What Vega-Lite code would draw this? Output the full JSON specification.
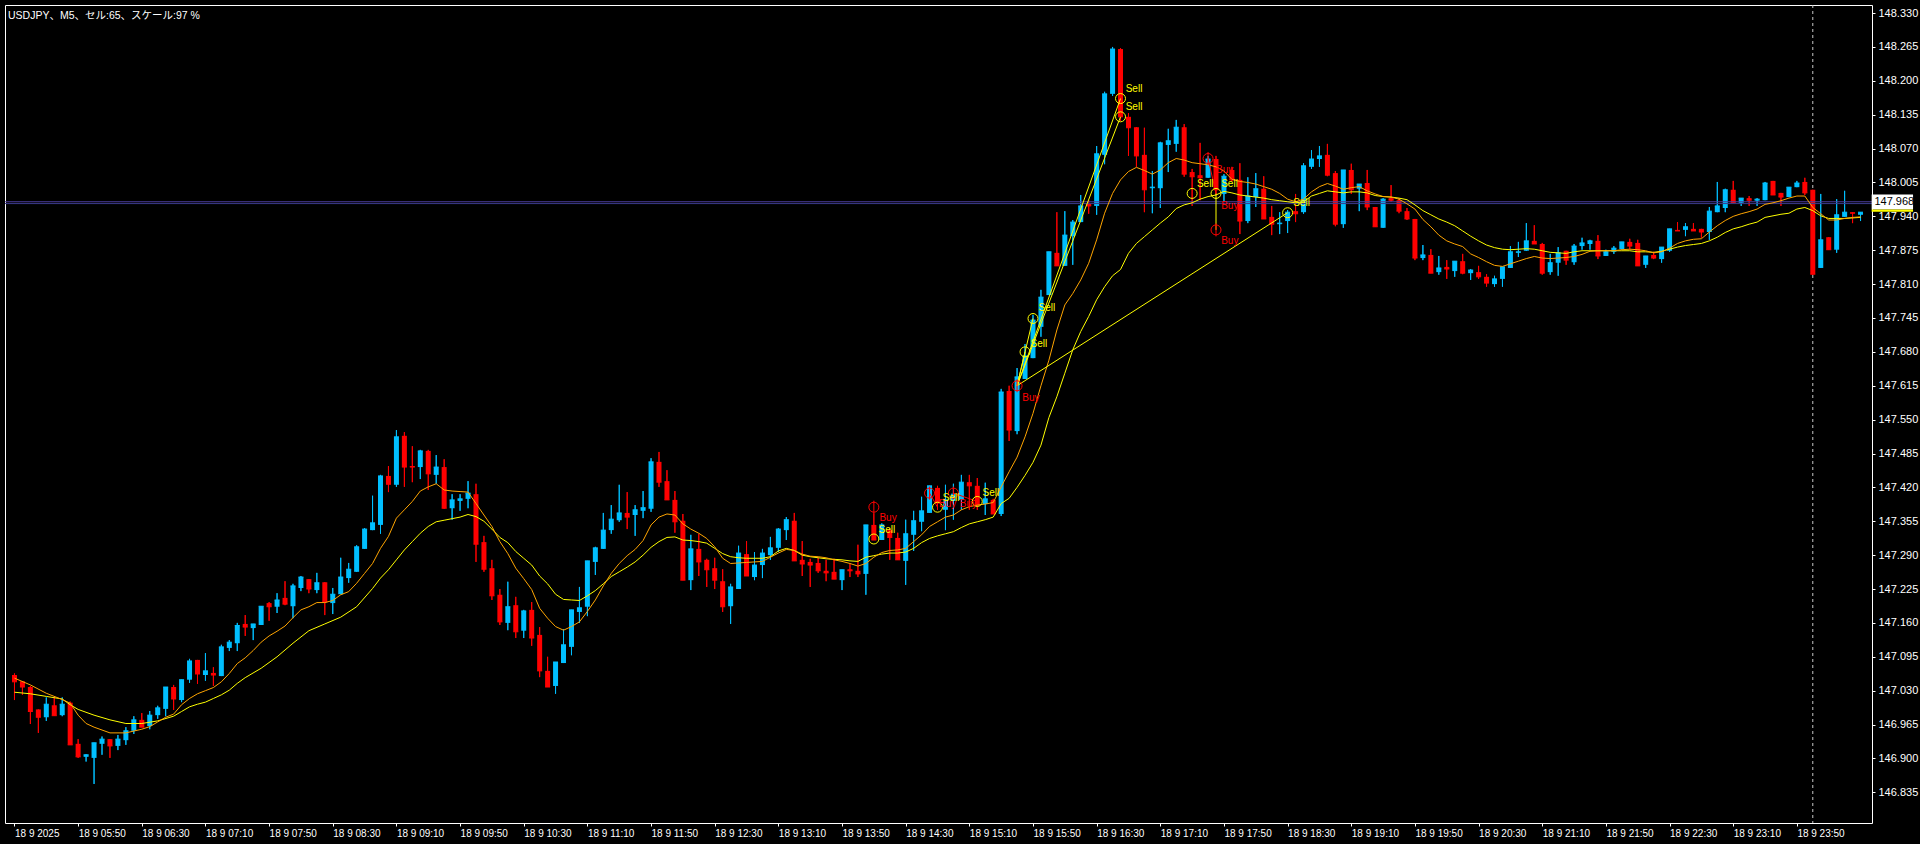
{
"$schema":"https://vega.github.io/schema/vega-lite/v6.json",
"width":1867,"height":818,"autosize":{"type":"none"},
"padding":{"left":5,"top":5,"right":48,"bottom":21},
"background":"#000000",
"title":{"text":"USDJPY、M5、セル:65、スケール:97 %","anchor":"start","frame":"group","offset":-17,"dx":3,"fontSize":10.5,"fontWeight":"normal","color":"#FFFFFF","font":"Liberation Sans, Noto Sans CJK JP"},
"config":{"view":{"stroke":"#FFFFFF","strokeWidth":1,"fill":"#000000"},
"axis":{"labelOverlap":false,"labelBound":false,"labelFlush":false,"grid":false,"domain":false},
"axisY":{"labelOverlap":false,"labelColor":"#FFFFFF","labelFont":"Liberation Sans","labelFontSize":11,"labelPadding":3,"tickColor":"#FFFFFF","tickSize":3,"tickCount":40}},
"datasets":{
"k":[
{"i":0,"o":147.060,"h":147.063,"l":147.012,"c":147.047},
{"i":1,"o":147.048,"h":147.048,"l":147.022,"c":147.037},
{"i":2,"o":147.037,"h":147.039,"l":146.966,"c":146.990},
{"i":3,"o":146.994,"h":146.994,"l":146.949,"c":146.979},
{"i":4,"o":146.979,"h":147.017,"l":146.972,"c":147.004},
{"i":5,"o":147.002,"h":147.017,"l":146.982,"c":146.982},
{"i":6,"o":146.983,"h":147.017,"l":146.981,"c":147.004},
{"i":7,"o":147.007,"h":147.009,"l":146.926,"c":146.926},
{"i":8,"o":146.928,"h":146.937,"l":146.901,"c":146.903},
{"i":9,"o":146.903,"h":146.908,"l":146.894,"c":146.907},
{"i":10,"o":146.901,"h":146.930,"l":146.851,"c":146.930},
{"i":11,"o":146.928,"h":146.942,"l":146.907,"c":146.937},
{"i":12,"o":146.937,"h":146.937,"l":146.901,"c":146.924},
{"i":13,"o":146.924,"h":146.945,"l":146.916,"c":146.937},
{"i":14,"o":146.935,"h":146.960,"l":146.926,"c":146.953},
{"i":15,"o":146.953,"h":146.981,"l":146.947,"c":146.974},
{"i":16,"o":146.974,"h":146.987,"l":146.960,"c":146.960},
{"i":17,"o":146.962,"h":146.991,"l":146.956,"c":146.983},
{"i":18,"o":146.983,"h":147.001,"l":146.976,"c":146.997},
{"i":19,"o":146.995,"h":147.037,"l":146.981,"c":147.037},
{"i":20,"o":147.037,"h":147.041,"l":146.993,"c":147.014},
{"i":21,"o":147.012,"h":147.051,"l":147.008,"c":147.051},
{"i":22,"o":147.051,"h":147.091,"l":147.045,"c":147.087},
{"i":23,"o":147.089,"h":147.089,"l":147.043,"c":147.062},
{"i":24,"o":147.060,"h":147.102,"l":147.049,"c":147.068},
{"i":25,"o":147.064,"h":147.075,"l":147.039,"c":147.060},
{"i":26,"o":147.058,"h":147.118,"l":147.058,"c":147.114},
{"i":27,"o":147.112,"h":147.127,"l":147.106,"c":147.123},
{"i":28,"o":147.121,"h":147.160,"l":147.106,"c":147.155},
{"i":29,"o":147.158,"h":147.175,"l":147.135,"c":147.152},
{"i":30,"o":147.150,"h":147.158,"l":147.127,"c":147.158},
{"i":31,"o":147.156,"h":147.192,"l":147.156,"c":147.192},
{"i":32,"o":147.198,"h":147.200,"l":147.164,"c":147.191},
{"i":33,"o":147.191,"h":147.217,"l":147.179,"c":147.204},
{"i":34,"o":147.208,"h":147.240,"l":147.194,"c":147.196},
{"i":35,"o":147.192,"h":147.235,"l":147.169,"c":147.231},
{"i":36,"o":147.227,"h":147.250,"l":147.221,"c":147.248},
{"i":37,"o":147.244,"h":147.244,"l":147.217,"c":147.225},
{"i":38,"o":147.223,"h":147.256,"l":147.217,"c":147.237},
{"i":39,"o":147.238,"h":147.238,"l":147.175,"c":147.200},
{"i":40,"o":147.198,"h":147.227,"l":147.177,"c":147.215},
{"i":41,"o":147.215,"h":147.285,"l":147.215,"c":147.248},
{"i":42,"o":147.246,"h":147.275,"l":147.237,"c":147.263},
{"i":43,"o":147.258,"h":147.309,"l":147.258,"c":147.306},
{"i":44,"o":147.302,"h":147.342,"l":147.302,"c":147.340},
{"i":45,"o":147.338,"h":147.404,"l":147.338,"c":147.352},
{"i":46,"o":147.348,"h":147.444,"l":147.331,"c":147.442},
{"i":47,"o":147.442,"h":147.461,"l":147.411,"c":147.426},
{"i":48,"o":147.425,"h":147.530,"l":147.421,"c":147.517},
{"i":49,"o":147.519,"h":147.526,"l":147.421,"c":147.459},
{"i":50,"o":147.461,"h":147.499,"l":147.430,"c":147.459},
{"i":51,"o":147.459,"h":147.492,"l":147.436,"c":147.490},
{"i":52,"o":147.490,"h":147.492,"l":147.415,"c":147.446},
{"i":53,"o":147.444,"h":147.482,"l":147.427,"c":147.459},
{"i":54,"o":147.459,"h":147.474,"l":147.379,"c":147.380},
{"i":55,"o":147.380,"h":147.407,"l":147.358,"c":147.396},
{"i":56,"o":147.394,"h":147.407,"l":147.375,"c":147.398},
{"i":57,"o":147.398,"h":147.432,"l":147.380,"c":147.409},
{"i":58,"o":147.407,"h":147.427,"l":147.277,"c":147.311},
{"i":59,"o":147.315,"h":147.327,"l":147.258,"c":147.263},
{"i":60,"o":147.265,"h":147.281,"l":147.204,"c":147.212},
{"i":61,"o":147.214,"h":147.225,"l":147.156,"c":147.162},
{"i":62,"o":147.160,"h":147.239,"l":147.146,"c":147.191},
{"i":63,"o":147.194,"h":147.210,"l":147.131,"c":147.143},
{"i":64,"o":147.145,"h":147.185,"l":147.131,"c":147.183},
{"i":65,"o":147.185,"h":147.200,"l":147.116,"c":147.131},
{"i":66,"o":147.137,"h":147.152,"l":147.056,"c":147.068},
{"i":67,"o":147.068,"h":147.095,"l":147.037,"c":147.037},
{"i":68,"o":147.039,"h":147.085,"l":147.024,"c":147.085},
{"i":69,"o":147.083,"h":147.148,"l":147.083,"c":147.118},
{"i":70,"o":147.114,"h":147.185,"l":147.098,"c":147.185},
{"i":71,"o":147.181,"h":147.229,"l":147.160,"c":147.189},
{"i":72,"o":147.191,"h":147.279,"l":147.173,"c":147.279},
{"i":73,"o":147.277,"h":147.306,"l":147.252,"c":147.304},
{"i":74,"o":147.302,"h":147.371,"l":147.302,"c":147.338},
{"i":75,"o":147.338,"h":147.386,"l":147.331,"c":147.359},
{"i":76,"o":147.357,"h":147.425,"l":147.354,"c":147.371},
{"i":77,"o":147.371,"h":147.411,"l":147.340,"c":147.363},
{"i":78,"o":147.367,"h":147.386,"l":147.327,"c":147.377},
{"i":79,"o":147.375,"h":147.413,"l":147.361,"c":147.381},
{"i":80,"o":147.379,"h":147.476,"l":147.373,"c":147.469},
{"i":81,"o":147.469,"h":147.488,"l":147.421,"c":147.430},
{"i":82,"o":147.432,"h":147.453,"l":147.396,"c":147.396},
{"i":83,"o":147.396,"h":147.413,"l":147.333,"c":147.354},
{"i":84,"o":147.356,"h":147.369,"l":147.242,"c":147.242},
{"i":85,"o":147.242,"h":147.329,"l":147.223,"c":147.302},
{"i":86,"o":147.302,"h":147.331,"l":147.250,"c":147.277},
{"i":87,"o":147.281,"h":147.283,"l":147.229,"c":147.262},
{"i":88,"o":147.265,"h":147.285,"l":147.225,"c":147.242},
{"i":89,"o":147.240,"h":147.263,"l":147.181,"c":147.191},
{"i":90,"o":147.192,"h":147.235,"l":147.158,"c":147.229},
{"i":91,"o":147.225,"h":147.308,"l":147.225,"c":147.294},
{"i":92,"o":147.292,"h":147.317,"l":147.250,"c":147.250},
{"i":93,"o":147.248,"h":147.296,"l":147.242,"c":147.271},
{"i":94,"o":147.271,"h":147.302,"l":147.246,"c":147.294},
{"i":95,"o":147.290,"h":147.325,"l":147.281,"c":147.304},
{"i":96,"o":147.304,"h":147.342,"l":147.296,"c":147.340},
{"i":97,"o":147.338,"h":147.363,"l":147.319,"c":147.358},
{"i":98,"o":147.356,"h":147.371,"l":147.279,"c":147.279},
{"i":99,"o":147.281,"h":147.317,"l":147.250,"c":147.273},
{"i":100,"o":147.277,"h":147.283,"l":147.229,"c":147.271},
{"i":101,"o":147.275,"h":147.285,"l":147.256,"c":147.260},
{"i":102,"o":147.260,"h":147.281,"l":147.240,"c":147.256},
{"i":103,"o":147.258,"h":147.283,"l":147.244,"c":147.244},
{"i":104,"o":147.242,"h":147.262,"l":147.223,"c":147.262},
{"i":105,"o":147.263,"h":147.273,"l":147.248,"c":147.260},
{"i":106,"o":147.260,"h":147.310,"l":147.248,"c":147.254},
{"i":107,"o":147.254,"h":147.348,"l":147.214,"c":147.348},
{"i":108,"o":147.348,"h":147.370,"l":147.319,"c":147.319},
{"i":109,"o":147.319,"h":147.351,"l":147.319,"c":147.348},
{"i":110,"o":147.338,"h":147.342,"l":147.281,"c":147.324},
{"i":111,"o":147.323,"h":147.333,"l":147.281,"c":147.281},
{"i":112,"o":147.279,"h":147.358,"l":147.233,"c":147.331},
{"i":113,"o":147.329,"h":147.375,"l":147.298,"c":147.356},
{"i":114,"o":147.354,"h":147.402,"l":147.336,"c":147.375},
{"i":115,"o":147.371,"h":147.423,"l":147.371,"c":147.423},
{"i":116,"o":147.419,"h":147.423,"l":147.377,"c":147.390},
{"i":117,"o":147.377,"h":147.425,"l":147.338,"c":147.396},
{"i":118,"o":147.394,"h":147.427,"l":147.358,"c":147.407},
{"i":119,"o":147.396,"h":147.444,"l":147.377,"c":147.430},
{"i":120,"o":147.430,"h":147.444,"l":147.377,"c":147.423},
{"i":121,"o":147.423,"h":147.438,"l":147.377,"c":147.386},
{"i":122,"o":147.388,"h":147.429,"l":147.367,"c":147.398},
{"i":123,"o":147.396,"h":147.398,"l":147.369,"c":147.369},
{"i":124,"o":147.369,"h":147.609,"l":147.365,"c":147.603},
{"i":125,"o":147.605,"h":147.615,"l":147.509,"c":147.530},
{"i":126,"o":147.528,"h":147.649,"l":147.522,"c":147.632},
{"i":127,"o":147.628,"h":147.695,"l":147.628,"c":147.672},
{"i":128,"o":147.668,"h":147.751,"l":147.668,"c":147.741},
{"i":129,"o":147.728,"h":147.799,"l":147.709,"c":147.785},
{"i":130,"o":147.789,"h":147.872,"l":147.789,"c":147.872},
{"i":131,"o":147.870,"h":147.948,"l":147.845,"c":147.845},
{"i":132,"o":147.845,"h":147.950,"l":147.845,"c":147.904},
{"i":133,"o":147.902,"h":147.933,"l":147.847,"c":147.929},
{"i":134,"o":147.929,"h":147.981,"l":147.929,"c":147.960},
{"i":135,"o":147.964,"h":147.971,"l":147.945,"c":147.960},
{"i":136,"o":147.960,"h":148.075,"l":147.943,"c":148.060},
{"i":137,"o":148.058,"h":148.179,"l":148.040,"c":148.175},
{"i":138,"o":148.175,"h":148.265,"l":148.171,"c":148.261},
{"i":139,"o":148.261,"h":148.263,"l":148.123,"c":148.131},
{"i":140,"o":148.131,"h":148.138,"l":148.056,"c":148.110},
{"i":141,"o":148.111,"h":148.111,"l":148.035,"c":148.056},
{"i":142,"o":148.058,"h":148.110,"l":147.948,"c":147.991},
{"i":143,"o":147.994,"h":148.027,"l":147.946,"c":147.996},
{"i":144,"o":147.994,"h":148.083,"l":147.956,"c":148.081},
{"i":145,"o":148.077,"h":148.108,"l":148.025,"c":148.085},
{"i":146,"o":148.079,"h":148.125,"l":148.064,"c":148.111},
{"i":147,"o":148.111,"h":148.117,"l":148.016,"c":148.021},
{"i":148,"o":148.025,"h":148.031,"l":147.960,"c":148.016},
{"i":149,"o":148.019,"h":148.081,"l":147.971,"c":148.014},
{"i":150,"o":148.014,"h":148.056,"l":148.014,"c":148.050},
{"i":151,"o":148.050,"h":148.056,"l":147.981,"c":147.991},
{"i":152,"o":147.983,"h":148.021,"l":147.968,"c":148.017},
{"i":153,"o":148.029,"h":148.035,"l":148.007,"c":148.010},
{"i":154,"o":148.010,"h":148.042,"l":147.906,"c":147.931},
{"i":155,"o":147.931,"h":148.015,"l":147.927,"c":147.979},
{"i":156,"o":147.977,"h":148.023,"l":147.958,"c":147.993},
{"i":157,"o":147.993,"h":148.017,"l":147.935,"c":147.935},
{"i":158,"o":147.939,"h":147.960,"l":147.904,"c":147.925},
{"i":159,"o":147.925,"h":147.948,"l":147.906,"c":147.927},
{"i":160,"o":147.931,"h":147.952,"l":147.908,"c":147.948},
{"i":161,"o":147.950,"h":147.983,"l":147.929,"c":147.945},
{"i":162,"o":147.948,"h":148.042,"l":147.945,"c":148.037},
{"i":163,"o":148.035,"h":148.067,"l":148.031,"c":148.050},
{"i":164,"o":148.050,"h":148.075,"l":148.035,"c":148.056},
{"i":165,"o":148.058,"h":148.079,"l":148.017,"c":148.019},
{"i":166,"o":148.023,"h":148.027,"l":147.921,"c":147.925},
{"i":167,"o":147.925,"h":148.029,"l":147.918,"c":148.029},
{"i":168,"o":148.029,"h":148.041,"l":147.983,"c":147.991},
{"i":169,"o":147.993,"h":148.002,"l":147.950,"c":148.002},
{"i":170,"o":148.004,"h":148.029,"l":147.952,"c":147.958},
{"i":171,"o":147.958,"h":147.958,"l":147.920,"c":147.920},
{"i":172,"o":147.918,"h":147.975,"l":147.918,"c":147.973},
{"i":173,"o":147.975,"h":148.000,"l":147.968,"c":147.971},
{"i":174,"o":147.971,"h":147.975,"l":147.946,"c":147.950},
{"i":175,"o":147.950,"h":147.956,"l":147.933,"c":147.935},
{"i":176,"o":147.935,"h":147.935,"l":147.856,"c":147.860},
{"i":177,"o":147.860,"h":147.885,"l":147.856,"c":147.866},
{"i":178,"o":147.866,"h":147.877,"l":147.831,"c":147.831},
{"i":179,"o":147.833,"h":147.864,"l":147.828,"c":147.841},
{"i":180,"o":147.843,"h":147.856,"l":147.820,"c":147.839},
{"i":181,"o":147.835,"h":147.854,"l":147.824,"c":147.854},
{"i":182,"o":147.854,"h":147.868,"l":147.829,"c":147.831},
{"i":183,"o":147.831,"h":147.839,"l":147.818,"c":147.837},
{"i":184,"o":147.833,"h":147.845,"l":147.820,"c":147.824},
{"i":185,"o":147.824,"h":147.829,"l":147.805,"c":147.812},
{"i":186,"o":147.810,"h":147.826,"l":147.805,"c":147.820},
{"i":187,"o":147.820,"h":147.843,"l":147.805,"c":147.843},
{"i":188,"o":147.841,"h":147.883,"l":147.841,"c":147.872},
{"i":189,"o":147.870,"h":147.891,"l":147.862,"c":147.872},
{"i":190,"o":147.874,"h":147.927,"l":147.874,"c":147.893},
{"i":191,"o":147.893,"h":147.923,"l":147.887,"c":147.887},
{"i":192,"o":147.887,"h":147.889,"l":147.828,"c":147.831},
{"i":193,"o":147.833,"h":147.868,"l":147.828,"c":147.851},
{"i":194,"o":147.851,"h":147.881,"l":147.826,"c":147.870},
{"i":195,"o":147.874,"h":147.874,"l":147.847,"c":147.856},
{"i":196,"o":147.852,"h":147.887,"l":147.847,"c":147.883},
{"i":197,"o":147.883,"h":147.899,"l":147.876,"c":147.889},
{"i":198,"o":147.887,"h":147.895,"l":147.876,"c":147.893},
{"i":199,"o":147.893,"h":147.904,"l":147.858,"c":147.864},
{"i":200,"o":147.864,"h":147.876,"l":147.864,"c":147.872},
{"i":201,"o":147.872,"h":147.883,"l":147.868,"c":147.879},
{"i":202,"o":147.877,"h":147.891,"l":147.876,"c":147.891},
{"i":203,"o":147.891,"h":147.897,"l":147.876,"c":147.883},
{"i":204,"o":147.889,"h":147.895,"l":147.845,"c":147.845},
{"i":205,"o":147.847,"h":147.864,"l":147.841,"c":147.864},
{"i":206,"o":147.866,"h":147.872,"l":147.858,"c":147.860},
{"i":207,"o":147.858,"h":147.881,"l":147.851,"c":147.881},
{"i":208,"o":147.874,"h":147.916,"l":147.872,"c":147.916},
{"i":209,"o":147.914,"h":147.929,"l":147.912,"c":147.912},
{"i":210,"o":147.914,"h":147.927,"l":147.902,"c":147.920},
{"i":211,"o":147.916,"h":147.927,"l":147.912,"c":147.912},
{"i":212,"o":147.916,"h":147.916,"l":147.899,"c":147.910},
{"i":213,"o":147.910,"h":147.958,"l":147.895,"c":147.950},
{"i":214,"o":147.948,"h":148.006,"l":147.948,"c":147.960},
{"i":215,"o":147.956,"h":147.993,"l":147.948,"c":147.991},
{"i":216,"o":147.991,"h":148.008,"l":147.966,"c":147.966},
{"i":217,"o":147.966,"h":147.975,"l":147.960,"c":147.975},
{"i":218,"o":147.975,"h":147.979,"l":147.960,"c":147.971},
{"i":219,"o":147.970,"h":147.975,"l":147.960,"c":147.973},
{"i":220,"o":147.971,"h":148.006,"l":147.971,"c":148.004},
{"i":221,"o":148.008,"h":148.008,"l":147.981,"c":147.981},
{"i":222,"o":147.985,"h":147.985,"l":147.960,"c":147.977},
{"i":223,"o":147.977,"h":147.996,"l":147.977,"c":147.996},
{"i":224,"o":147.996,"h":148.008,"l":147.996,"c":148.004},
{"i":225,"o":148.006,"h":148.014,"l":147.981,"c":147.985},
{"i":226,"o":147.991,"h":147.991,"l":147.828,"c":147.829},
{"i":227,"o":147.841,"h":147.983,"l":147.841,"c":147.895},
{"i":228,"o":147.900,"h":147.900,"l":147.876,"c":147.876},
{"i":229,"o":147.876,"h":147.973,"l":147.870,"c":147.943},
{"i":230,"o":147.939,"h":147.989,"l":147.939,"c":147.948},
{"i":231,"o":147.948,"h":147.948,"l":147.927,"c":147.946},
{"i":232,"o":147.943,"h":147.948,"l":147.931,"c":147.948}
],
"fast":[
{"i":0,"v":147.054},{"i":2,"v":147.041},{"i":4,"v":147.025},{"i":6,"v":147.013},{"i":7,"v":147.006},{"i":8,"v":146.983},{"i":9,"v":146.967},{"i":10,"v":146.960},{"i":12,"v":146.949},{"i":14,"v":146.949},{"i":16,"v":146.956},{"i":17,"v":146.961},{"i":18,"v":146.970},{"i":19,"v":146.979},{"i":20,"v":146.985},{"i":21,"v":147.003},{"i":22,"v":147.015},{"i":23,"v":147.024},{"i":24,"v":147.030},{"i":25,"v":147.036},{"i":26,"v":147.047},{"i":27,"v":147.063},{"i":28,"v":147.082},{"i":29,"v":147.093},{"i":30,"v":147.107},{"i":31,"v":147.123},{"i":32,"v":147.135},{"i":33,"v":147.144},{"i":34,"v":147.154},{"i":35,"v":147.170},{"i":36,"v":147.185},{"i":37,"v":147.191},{"i":38,"v":147.199},{"i":39,"v":147.199},{"i":40,"v":147.203},{"i":41,"v":147.214},{"i":42,"v":147.220},{"i":43,"v":147.236},{"i":44,"v":147.255},{"i":45,"v":147.274},{"i":46,"v":147.303},{"i":47,"v":147.326},{"i":48,"v":147.361},{"i":49,"v":147.377},{"i":50,"v":147.393},{"i":51,"v":147.413},{"i":52,"v":147.421},{"i":53,"v":147.427},{"i":54,"v":147.415},{"i":55,"v":147.413},{"i":56,"v":147.412},{"i":57,"v":147.411},{"i":58,"v":147.389},{"i":59,"v":147.367},{"i":60,"v":147.345},{"i":61,"v":147.316},{"i":62,"v":147.293},{"i":63,"v":147.265},{"i":64,"v":147.245},{"i":65,"v":147.224},{"i":66,"v":147.188},{"i":67,"v":147.169},{"i":68,"v":147.153},{"i":69,"v":147.146},{"i":70,"v":147.153},{"i":71,"v":147.162},{"i":72,"v":147.182},{"i":73,"v":147.204},{"i":74,"v":147.231},{"i":75,"v":147.255},{"i":76,"v":147.274},{"i":77,"v":147.289},{"i":78,"v":147.301},{"i":79,"v":147.318},{"i":80,"v":147.348},{"i":81,"v":147.363},{"i":82,"v":147.369},{"i":83,"v":147.367},{"i":84,"v":147.350},{"i":85,"v":147.340},{"i":86,"v":147.332},{"i":87,"v":147.322},{"i":88,"v":147.306},{"i":89,"v":147.284},{"i":90,"v":147.274},{"i":91,"v":147.275},{"i":92,"v":147.276},{"i":93,"v":147.277},{"i":94,"v":147.278},{"i":95,"v":147.286},{"i":96,"v":147.294},{"i":97,"v":147.301},{"i":98,"v":147.299},{"i":99,"v":147.292},{"i":100,"v":147.288},{"i":101,"v":147.287},{"i":102,"v":147.285},{"i":103,"v":147.281},{"i":104,"v":147.278},{"i":105,"v":147.274},{"i":106,"v":147.269},{"i":107,"v":147.274},{"i":108,"v":147.286},{"i":109,"v":147.295},{"i":110,"v":147.299},{"i":111,"v":147.300},{"i":112,"v":147.303},{"i":113,"v":147.316},{"i":114,"v":147.329},{"i":115,"v":147.345},{"i":116,"v":147.354},{"i":117,"v":147.363},{"i":118,"v":147.367},{"i":119,"v":147.377},{"i":120,"v":147.383},{"i":121,"v":147.386},{"i":122,"v":147.388},{"i":123,"v":147.391},{"i":124,"v":147.421},{"i":125,"v":147.450},{"i":126,"v":147.478},{"i":127,"v":147.517},{"i":128,"v":147.562},{"i":129,"v":147.615},{"i":130,"v":147.664},{"i":131,"v":147.722},{"i":132,"v":147.770},{"i":133,"v":147.792},{"i":134,"v":147.818},{"i":135,"v":147.850},{"i":136,"v":147.895},{"i":137,"v":147.946},{"i":138,"v":147.984},{"i":139,"v":148.010},{"i":140,"v":148.026},{"i":141,"v":148.034},{"i":142,"v":148.028},{"i":143,"v":148.021},{"i":144,"v":148.029},{"i":145,"v":148.043},{"i":146,"v":148.051},{"i":147,"v":148.048},{"i":148,"v":148.043},{"i":149,"v":148.041},{"i":150,"v":148.039},{"i":151,"v":148.035},{"i":152,"v":148.027},{"i":153,"v":148.011},{"i":154,"v":148.007},{"i":155,"v":148.005},{"i":156,"v":148.002},{"i":157,"v":147.997},{"i":158,"v":147.992},{"i":159,"v":147.984},{"i":160,"v":147.973},{"i":161,"v":147.968},{"i":162,"v":147.973},{"i":163,"v":147.987},{"i":164,"v":147.997},{"i":165,"v":148.003},{"i":166,"v":147.998},{"i":167,"v":147.992},{"i":168,"v":147.995},{"i":169,"v":147.997},{"i":170,"v":147.989},{"i":171,"v":147.983},{"i":172,"v":147.978},{"i":173,"v":147.977},{"i":174,"v":147.973},{"i":175,"v":147.964},{"i":176,"v":147.954},{"i":177,"v":147.934},{"i":178,"v":147.920},{"i":179,"v":147.904},{"i":180,"v":147.893},{"i":181,"v":147.887},{"i":182,"v":147.882},{"i":183,"v":147.868},{"i":184,"v":147.861},{"i":185,"v":147.853},{"i":186,"v":147.846},{"i":187,"v":147.844},{"i":188,"v":147.849},{"i":189,"v":147.854},{"i":190,"v":147.859},{"i":191,"v":147.863},{"i":192,"v":147.860},{"i":193,"v":147.859},{"i":194,"v":147.860},{"i":195,"v":147.861},{"i":196,"v":147.863},{"i":197,"v":147.867},{"i":198,"v":147.873},{"i":199,"v":147.874},{"i":200,"v":147.874},{"i":201,"v":147.874},{"i":202,"v":147.876},{"i":203,"v":147.877},{"i":204,"v":147.876},{"i":205,"v":147.874},{"i":206,"v":147.870},{"i":207,"v":147.872},{"i":208,"v":147.879},{"i":209,"v":147.888},{"i":210,"v":147.893},{"i":211,"v":147.896},{"i":212,"v":147.897},{"i":213,"v":147.910},{"i":214,"v":147.922},{"i":215,"v":147.932},{"i":216,"v":147.940},{"i":217,"v":147.945},{"i":218,"v":147.949},{"i":219,"v":147.954},{"i":220,"v":147.963},{"i":221,"v":147.966},{"i":222,"v":147.970},{"i":223,"v":147.975},{"i":224,"v":147.979},{"i":225,"v":147.979},{"i":226,"v":147.957},{"i":227,"v":147.945},{"i":228,"v":147.933},{"i":229,"v":147.933},{"i":230,"v":147.936},{"i":231,"v":147.938},{"i":232,"v":147.939}
],
"slow":[
{"i":0,"v":147.027},{"i":2,"v":147.024},{"i":4,"v":147.019},{"i":6,"v":147.014},{"i":7,"v":147.003},{"i":8,"v":146.994},{"i":10,"v":146.983},{"i":12,"v":146.974},{"i":14,"v":146.967},{"i":16,"v":146.967},{"i":18,"v":146.972},{"i":20,"v":146.981},{"i":21,"v":146.990},{"i":22,"v":146.999},{"i":23,"v":147.004},{"i":24,"v":147.008},{"i":25,"v":147.015},{"i":26,"v":147.022},{"i":27,"v":147.031},{"i":28,"v":147.044},{"i":29,"v":147.055},{"i":31,"v":147.073},{"i":33,"v":147.095},{"i":35,"v":147.121},{"i":37,"v":147.145},{"i":39,"v":147.158},{"i":41,"v":147.171},{"i":43,"v":147.191},{"i":45,"v":147.226},{"i":46,"v":147.246},{"i":47,"v":147.262},{"i":48,"v":147.281},{"i":49,"v":147.300},{"i":50,"v":147.316},{"i":51,"v":147.332},{"i":52,"v":147.345},{"i":53,"v":147.354},{"i":54,"v":147.357},{"i":55,"v":147.360},{"i":56,"v":147.363},{"i":57,"v":147.368},{"i":58,"v":147.364},{"i":59,"v":147.355},{"i":60,"v":147.340},{"i":61,"v":147.324},{"i":62,"v":147.314},{"i":63,"v":147.297},{"i":64,"v":147.284},{"i":65,"v":147.271},{"i":66,"v":147.250},{"i":67,"v":147.235},{"i":68,"v":147.215},{"i":69,"v":147.205},{"i":70,"v":147.204},{"i":71,"v":147.203},{"i":72,"v":147.212},{"i":73,"v":147.222},{"i":74,"v":147.235},{"i":75,"v":147.249},{"i":76,"v":147.258},{"i":77,"v":147.267},{"i":78,"v":147.277},{"i":79,"v":147.290},{"i":80,"v":147.305},{"i":81,"v":147.316},{"i":82,"v":147.324},{"i":83,"v":147.325},{"i":84,"v":147.319},{"i":85,"v":147.318},{"i":86,"v":147.316},{"i":87,"v":147.313},{"i":88,"v":147.303},{"i":89,"v":147.293},{"i":90,"v":147.287},{"i":91,"v":147.285},{"i":92,"v":147.284},{"i":93,"v":147.284},{"i":94,"v":147.284},{"i":95,"v":147.287},{"i":96,"v":147.298},{"i":97,"v":147.303},{"i":98,"v":147.299},{"i":99,"v":147.290},{"i":100,"v":147.287},{"i":101,"v":147.285},{"i":102,"v":147.283},{"i":103,"v":147.282},{"i":104,"v":147.281},{"i":105,"v":147.279},{"i":106,"v":147.278},{"i":107,"v":147.286},{"i":108,"v":147.289},{"i":109,"v":147.292},{"i":110,"v":147.294},{"i":111,"v":147.294},{"i":112,"v":147.296},{"i":113,"v":147.303},{"i":114,"v":147.314},{"i":115,"v":147.322},{"i":116,"v":147.327},{"i":117,"v":147.331},{"i":118,"v":147.335},{"i":119,"v":147.343},{"i":120,"v":147.350},{"i":121,"v":147.354},{"i":122,"v":147.358},{"i":123,"v":147.363},{"i":124,"v":147.389},{"i":125,"v":147.399},{"i":126,"v":147.420},{"i":127,"v":147.443},{"i":128,"v":147.468},{"i":129,"v":147.501},{"i":130,"v":147.554},{"i":131,"v":147.594},{"i":132,"v":147.639},{"i":133,"v":147.684},{"i":134,"v":147.719},{"i":135,"v":147.748},{"i":136,"v":147.780},{"i":137,"v":147.805},{"i":138,"v":147.826},{"i":139,"v":147.838},{"i":140,"v":147.869},{"i":141,"v":147.888},{"i":142,"v":147.901},{"i":143,"v":147.914},{"i":144,"v":147.927},{"i":145,"v":147.939},{"i":146,"v":147.955},{"i":147,"v":147.962},{"i":148,"v":147.966},{"i":149,"v":147.973},{"i":150,"v":147.978},{"i":151,"v":147.981},{"i":152,"v":147.988},{"i":153,"v":147.985},{"i":154,"v":147.981},{"i":155,"v":147.979},{"i":156,"v":147.977},{"i":157,"v":147.975},{"i":158,"v":147.972},{"i":159,"v":147.970},{"i":160,"v":147.968},{"i":161,"v":147.966},{"i":162,"v":147.968},{"i":163,"v":147.979},{"i":164,"v":147.984},{"i":165,"v":147.989},{"i":166,"v":147.987},{"i":167,"v":147.985},{"i":168,"v":147.987},{"i":169,"v":147.987},{"i":170,"v":147.985},{"i":171,"v":147.980},{"i":172,"v":147.978},{"i":173,"v":147.977},{"i":174,"v":147.975},{"i":175,"v":147.972},{"i":176,"v":147.962},{"i":177,"v":147.951},{"i":178,"v":147.943},{"i":179,"v":147.935},{"i":180,"v":147.929},{"i":181,"v":147.922},{"i":182,"v":147.912},{"i":183,"v":147.902},{"i":184,"v":147.893},{"i":185,"v":147.885},{"i":186,"v":147.880},{"i":187,"v":147.877},{"i":188,"v":147.876},{"i":189,"v":147.877},{"i":190,"v":147.878},{"i":191,"v":147.877},{"i":192,"v":147.874},{"i":193,"v":147.871},{"i":194,"v":147.870},{"i":195,"v":147.869},{"i":196,"v":147.872},{"i":197,"v":147.874},{"i":198,"v":147.874},{"i":199,"v":147.874},{"i":200,"v":147.874},{"i":201,"v":147.874},{"i":202,"v":147.874},{"i":203,"v":147.874},{"i":204,"v":147.872},{"i":205,"v":147.872},{"i":206,"v":147.871},{"i":207,"v":147.873},{"i":208,"v":147.877},{"i":209,"v":147.881},{"i":210,"v":147.884},{"i":211,"v":147.886},{"i":212,"v":147.888},{"i":213,"v":147.893},{"i":214,"v":147.900},{"i":215,"v":147.909},{"i":216,"v":147.916},{"i":217,"v":147.920},{"i":218,"v":147.925},{"i":219,"v":147.929},{"i":220,"v":147.938},{"i":221,"v":147.941},{"i":222,"v":147.944},{"i":223,"v":147.946},{"i":224,"v":147.954},{"i":225,"v":147.957},{"i":226,"v":147.951},{"i":227,"v":147.941},{"i":228,"v":147.936},{"i":229,"v":147.936},{"i":230,"v":147.936},{"i":231,"v":147.937},{"i":232,"v":147.938}
],
"sig":[
{"t":1,"k":"Sell","i":126,"p":147.615},{"t":1,"k":"Sell","i":127,"p":147.680},
{"t":2,"k":"Sell","i":126,"p":147.615},{"t":2,"k":"Sell","i":128,"p":147.744},
{"t":3,"k":"Sell","i":126,"p":147.615},{"t":3,"k":"Sell","i":139,"p":148.166},
{"t":4,"k":"Sell","i":126,"p":147.615},{"t":4,"k":"Sell","i":139,"p":148.131},
{"t":5,"k":"Sell","i":126,"p":147.615},{"t":5,"k":"Sell","i":160,"p":147.947},
{"t":6,"k":"Sell","i":151,"p":147.914},{"t":6,"k":"Sell","i":151,"p":147.984},
{"t":7,"k":"Buy","i":115,"p":147.409},{"t":7,"k":"Buy","i":116,"p":147.382},
{"t":8,"k":"Buy","i":118,"p":147.409},{"t":8,"k":"Buy","i":121,"p":147.393},
{"t":9,"k":"Buy","i":150,"p":148.051},{"t":9,"k":"Buy","i":151,"p":147.984}
],
"mk":[
{"k":"Buy","i":108,"p":147.382},{"k":"Buy","i":115,"p":147.409},{"k":"Buy","i":118,"p":147.409},{"k":"Buy","i":126,"p":147.615},{"k":"Buy","i":150,"p":148.051},{"k":"Buy","i":151,"p":147.914},
{"k":"Sell","i":108,"p":147.321},{"k":"Sell","i":116,"p":147.382},{"k":"Sell","i":121,"p":147.393},{"k":"Sell","i":127,"p":147.680},{"k":"Sell","i":128,"p":147.744},{"k":"Sell","i":139,"p":148.166},{"k":"Sell","i":139,"p":148.131},{"k":"Sell","i":148,"p":147.984},{"k":"Sell","i":151,"p":147.984},{"k":"Sell","i":160,"p":147.947}
],
"lb":[
{"k":"Buy","i":108.7,"p":147.361},{"k":"Sell","i":108.6,"p":147.338},{"k":"Buy","i":116.2,"p":147.389},{"k":"Sell","i":116.65,"p":147.399},{"k":"Buy","i":118.8,"p":147.389},{"k":"Sell","i":121.65,"p":147.409},
{"k":"Buy","i":126.65,"p":147.592},{"k":"Sell","i":127.7,"p":147.696},{"k":"Sell","i":128.7,"p":147.764},{"k":"Sell","i":139.65,"p":148.184},{"k":"Sell","i":139.65,"p":148.149},
{"k":"Sell","i":148.6,"p":148.002},{"k":"Buy","i":151.0,"p":148.029},{"k":"Sell","i":151.65,"p":148.002},{"k":"Buy","i":151.65,"p":147.959},{"k":"Buy","i":151.65,"p":147.893},{"k":"Sell","i":160.7,"p":147.965}
],
"lv":[{"p":147.968,"c":"#4B3C9C"},{"p":147.9645,"c":"#3A3A8A"}],
"sep":[{"i":226}],
"box":[{"i":233.4,"i2":238.6,"p":147.982,"p2":147.953,"c":"#FFFFFF"},{"i":233.4,"i2":238.6,"p":147.953,"p2":147.949,"c":"#FFFF00"}],
"boxt":[{"i":233.75,"p":147.968,"t":"147.968"}]
},
"encoding":{
"x":{"field":"i","type":"quantitative","title":null,
"scale":{"domain":[-0.5625,232.8125],"nice":false,"zero":false},
"axis":{"orient":"bottom","values":[0,8,16,24,32,40,48,56,64,72,80,88,96,104,112,120,128,136,144,152,160,168,176,184,192,200,208,216,224],"tickCount":60,
"labelExpr":"datum.value == 0 ? '18 9 2025' : '18 9 ' + timeFormat(datetime(2025, 8, 18, 5, 10 + datum.value * 5), '%H:%M')",
"labelAlign":"left","labelColor":"#FFFFFF","labelFont":"Liberation Sans","labelFontSize":10,"labelPadding":2,"labelOverlap":false,"labelFlush":false,"labelBound":false,
"tickColor":"#FFFFFF","tickSize":3,"domain":false,"grid":false}}
},
"layer":[
{"data":{"name":"k"},"mark":{"type":"rule","strokeWidth":1},
 "encoding":{"y":{"field":"l","type":"quantitative","title":null,"scale":{"domain":[146.7761,148.3455],"nice":false,"zero":false},
   "axis":{"orient":"right","values":[146.835,146.900,146.965,147.030,147.095,147.160,147.225,147.290,147.355,147.420,147.485,147.550,147.615,147.680,147.745,147.810,147.875,147.940,148.005,148.070,148.135,148.200,148.265,148.330],"tickCount":40,
   "format":".3f","labelOverlap":false,"labelBound":false,"labelFlush":false,"domain":false,"grid":false}},
  "y2":{"field":"h"},
  "color":{"condition":{"test":"datum.c >= datum.o","value":"#00BFFF"},"value":"#FF0000"}}},
{"data":{"name":"sep"},"mark":{"type":"rule","color":"#C8C8C8","strokeDash":[3,3],"strokeWidth":1},
 "encoding":{"y":{"value":0},"y2":{"value":818}}},
{"data":{"name":"k"},"mark":{"type":"rule","strokeWidth":1},
 "encoding":{"y":{"field":"l","type":"quantitative","title":null},"y2":{"field":"h"},
  "color":{"condition":{"test":"datum.c >= datum.o","value":"#00BFFF"},"value":"#FF0000"}}},
{"data":{"name":"k"},"mark":{"type":"bar","width":5},
 "encoding":{"y":{"field":"o","type":"quantitative","title":null},"y2":{"field":"c"},
  "color":{"condition":{"test":"datum.c >= datum.o","value":"#00BFFF"},"value":"#FF0000"}}},
{"data":{"name":"k"},"mark":{"type":"tick","orient":"horizontal","size":5,"thickness":1,"opacity":1},
 "encoding":{"y":{"field":"c","type":"quantitative","title":null},
  "color":{"condition":{"test":"datum.c >= datum.o","value":"#00BFFF"},"value":"#FF0000"}}},
{"data":{"name":"lv"},"mark":{"type":"rule","strokeWidth":1},
 "encoding":{"x":{"value":0},"x2":{"value":1867},"y":{"field":"p","type":"quantitative","title":null},"color":{"field":"c","type":"nominal","scale":null}}},
{"data":{"name":"slow"},"mark":{"type":"line","color":"#FFFF00","strokeWidth":1},
 "encoding":{"y":{"field":"v","type":"quantitative","title":null}}},
{"data":{"name":"fast"},"mark":{"type":"line","color":"#FFA500","strokeWidth":1},
 "encoding":{"y":{"field":"v","type":"quantitative","title":null}}},
{"data":{"name":"sig"},"mark":{"type":"line","strokeWidth":1},
 "encoding":{"y":{"field":"p","type":"quantitative","title":null},"detail":{"field":"t"},
  "color":{"field":"k","type":"nominal","scale":{"domain":["Buy","Sell"],"range":["#FF0000","#FFFF00"]},"legend":null}}},
{"data":{"name":"mk"},"mark":{"type":"point","filled":false,"strokeWidth":1,"size":100,"opacity":1},
 "encoding":{"y":{"field":"p","type":"quantitative","title":null},
  "shape":{"field":"k","type":"nominal","scale":{"domain":["Buy","Sell"],"range":["M1,0A1,1 0 1,1 -1,0A1,1 0 1,1 1,0ZM0,-1.3L0,1.3","M1,0A1,1 0 1,1 -1,0A1,1 0 1,1 1,0Z"]},"legend":null},
  "color":{"field":"k","type":"nominal","scale":{"domain":["Buy","Sell"],"range":["#FF0000","#FFFF00"]},"legend":null}}},
{"data":{"name":"lb"},"mark":{"type":"text","align":"left","baseline":"middle","font":"Liberation Sans","fontSize":10},
 "encoding":{"y":{"field":"p","type":"quantitative","title":null},"text":{"field":"k"},
  "color":{"field":"k","type":"nominal","scale":{"domain":["Buy","Sell"],"range":["#FF0000","#FFFF00"]},"legend":null}}},
{"data":{"name":"box"},"mark":{"type":"rect","clip":false},
 "encoding":{"x2":{"field":"i2"},"y":{"field":"p","type":"quantitative","title":null},"y2":{"field":"p2"},"color":{"field":"c","type":"nominal","scale":null}}},
{"data":{"name":"boxt"},"mark":{"type":"text","align":"left","baseline":"middle","font":"Liberation Sans","fontSize":11,"color":"#000000","clip":false},
 "encoding":{"y":{"field":"p","type":"quantitative","title":null},"text":{"field":"t"}}}
]
}
